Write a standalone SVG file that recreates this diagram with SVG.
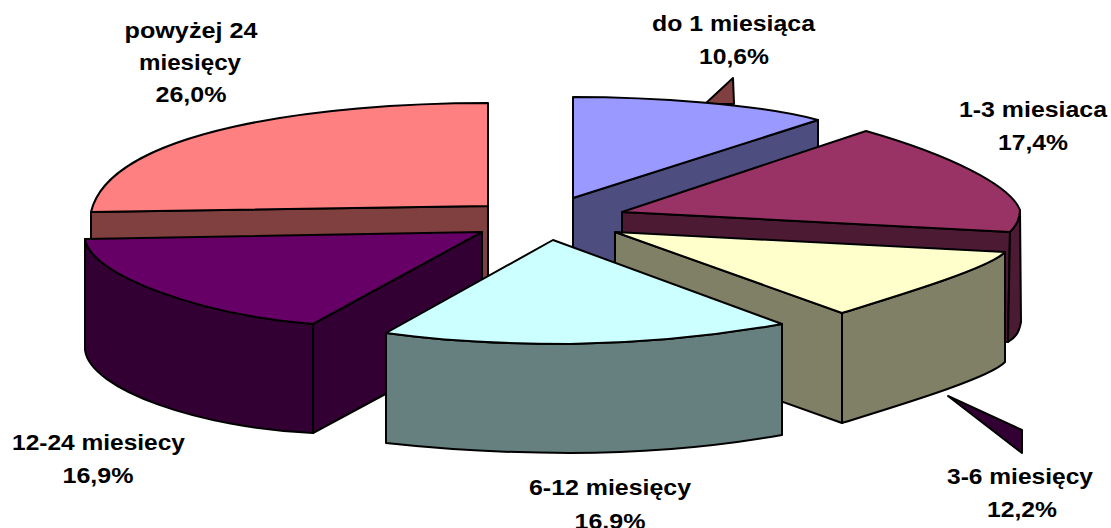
<svg xmlns="http://www.w3.org/2000/svg" width="1111" height="528" viewBox="0 0 1111 528">
<style>
.e{stroke:#000;stroke-width:2;stroke-linejoin:round}
.lbl{font-family:"Liberation Sans",Arial,sans-serif;font-weight:bold;font-size:22px;fill:#000;text-anchor:middle}
</style>
<rect width="1111" height="528" fill="#fff"/>
<g id="slice-powyzej24">
<polygon class="e" fill="#804040" points="91,212 488,206 488,316 91,322"/>
<path class="e" fill="#FF8080" d="M488,206 L488,103 C320,103 110,130 91,212 Z"/>
</g>
<g id="slice-do1">
<polygon class="e" fill="#804040" points="705,104 733,78 734,104"/>
<polygon class="e" fill="#4D4D80" points="573,198 818,120 818,230 573,308"/>
<path class="e" fill="#9999FF" d="M573,198 L573,97 C650,97 760,104 818,120 Z"/>
</g>
<g id="slice-1-3">
<polygon class="e" fill="#4D1A33" points="622,212 1010,232 1008,342 622,322"/>
<path class="e" fill="#4D1A33" d="M1010,232 C1016,226 1020,218 1020,210 L1021,322 C1019,333 1015,338 1008,342 Z"/>
<path class="e" fill="#993366" d="M622,212 L866,131 C950,155 1010,185 1020,210 C1020,218 1016,226 1010,232 Z"/>
</g>
<g id="slice-3-6">
<polygon class="e" fill="#330033" points="948,396 1022,430 1022,453"/>
<polygon class="e" fill="#808066" points="615,232 842,313 842,423 615,342"/>
<path class="e" fill="#808066" d="M842,313 C900,295 990,268 1005,252 L1005,362 C990,378 900,405 842,423 Z"/>
<path class="e" fill="#FFFFCC" d="M615,232 L1005,252 C990,268 900,295 842,313 Z"/>
</g>
<g id="slice-12-24">
<polygon class="e" fill="#330033" points="313,324 482,232 482,342 313,433"/>
<path class="e" fill="#330033" d="M85,239 C90,275 200,315 313,324 L313,433 C200,428 90,390 85,350 Z"/>
<path class="e" fill="#660066" d="M85,239 L482,232 L313,324 C200,315 90,275 85,239 Z"/>
</g>
<g id="slice-6-12">
<path class="e" fill="#668080" d="M386,333 C450,342 510,344 570,344 C650,343 720,335 782,324 L782,435 C720,446 650,453 570,453 C510,453 450,450 386,443 Z"/>
<path class="e" fill="#CCFFFF" d="M553,240 L782,324 C720,335 650,343 570,344 C510,344 450,342 386,333 Z"/>
</g>
<g id="labels">
<text class="lbl" x="733.5" y="31" textLength="163" lengthAdjust="spacingAndGlyphs">do 1 miesiąca</text>
<text class="lbl" x="734" y="63.5" textLength="70" lengthAdjust="spacingAndGlyphs">10,6%</text>
<text class="lbl" x="1033" y="117" textLength="148" lengthAdjust="spacingAndGlyphs">1-3 miesiaca</text>
<text class="lbl" x="1033" y="150" textLength="70" lengthAdjust="spacingAndGlyphs">17,4%</text>
<text class="lbl" x="1020" y="484" textLength="146" lengthAdjust="spacingAndGlyphs">3-6 miesięcy</text>
<text class="lbl" x="1022" y="517" textLength="70" lengthAdjust="spacingAndGlyphs">12,2%</text>
<text class="lbl" x="610" y="495" textLength="162" lengthAdjust="spacingAndGlyphs">6-12 miesięcy</text>
<text class="lbl" x="610" y="528.5" textLength="71" lengthAdjust="spacingAndGlyphs">16,9%</text>
<text class="lbl" x="98.5" y="450" textLength="173" lengthAdjust="spacingAndGlyphs">12-24 miesiecy</text>
<text class="lbl" x="98" y="483" textLength="71" lengthAdjust="spacingAndGlyphs">16,9%</text>
<text class="lbl" x="191" y="37.5" textLength="133" lengthAdjust="spacingAndGlyphs">powyżej 24</text>
<text class="lbl" x="190" y="69.5" textLength="102" lengthAdjust="spacingAndGlyphs">miesięcy</text>
<text class="lbl" x="191" y="101.5" textLength="71" lengthAdjust="spacingAndGlyphs">26,0%</text>
</g>
</svg>
